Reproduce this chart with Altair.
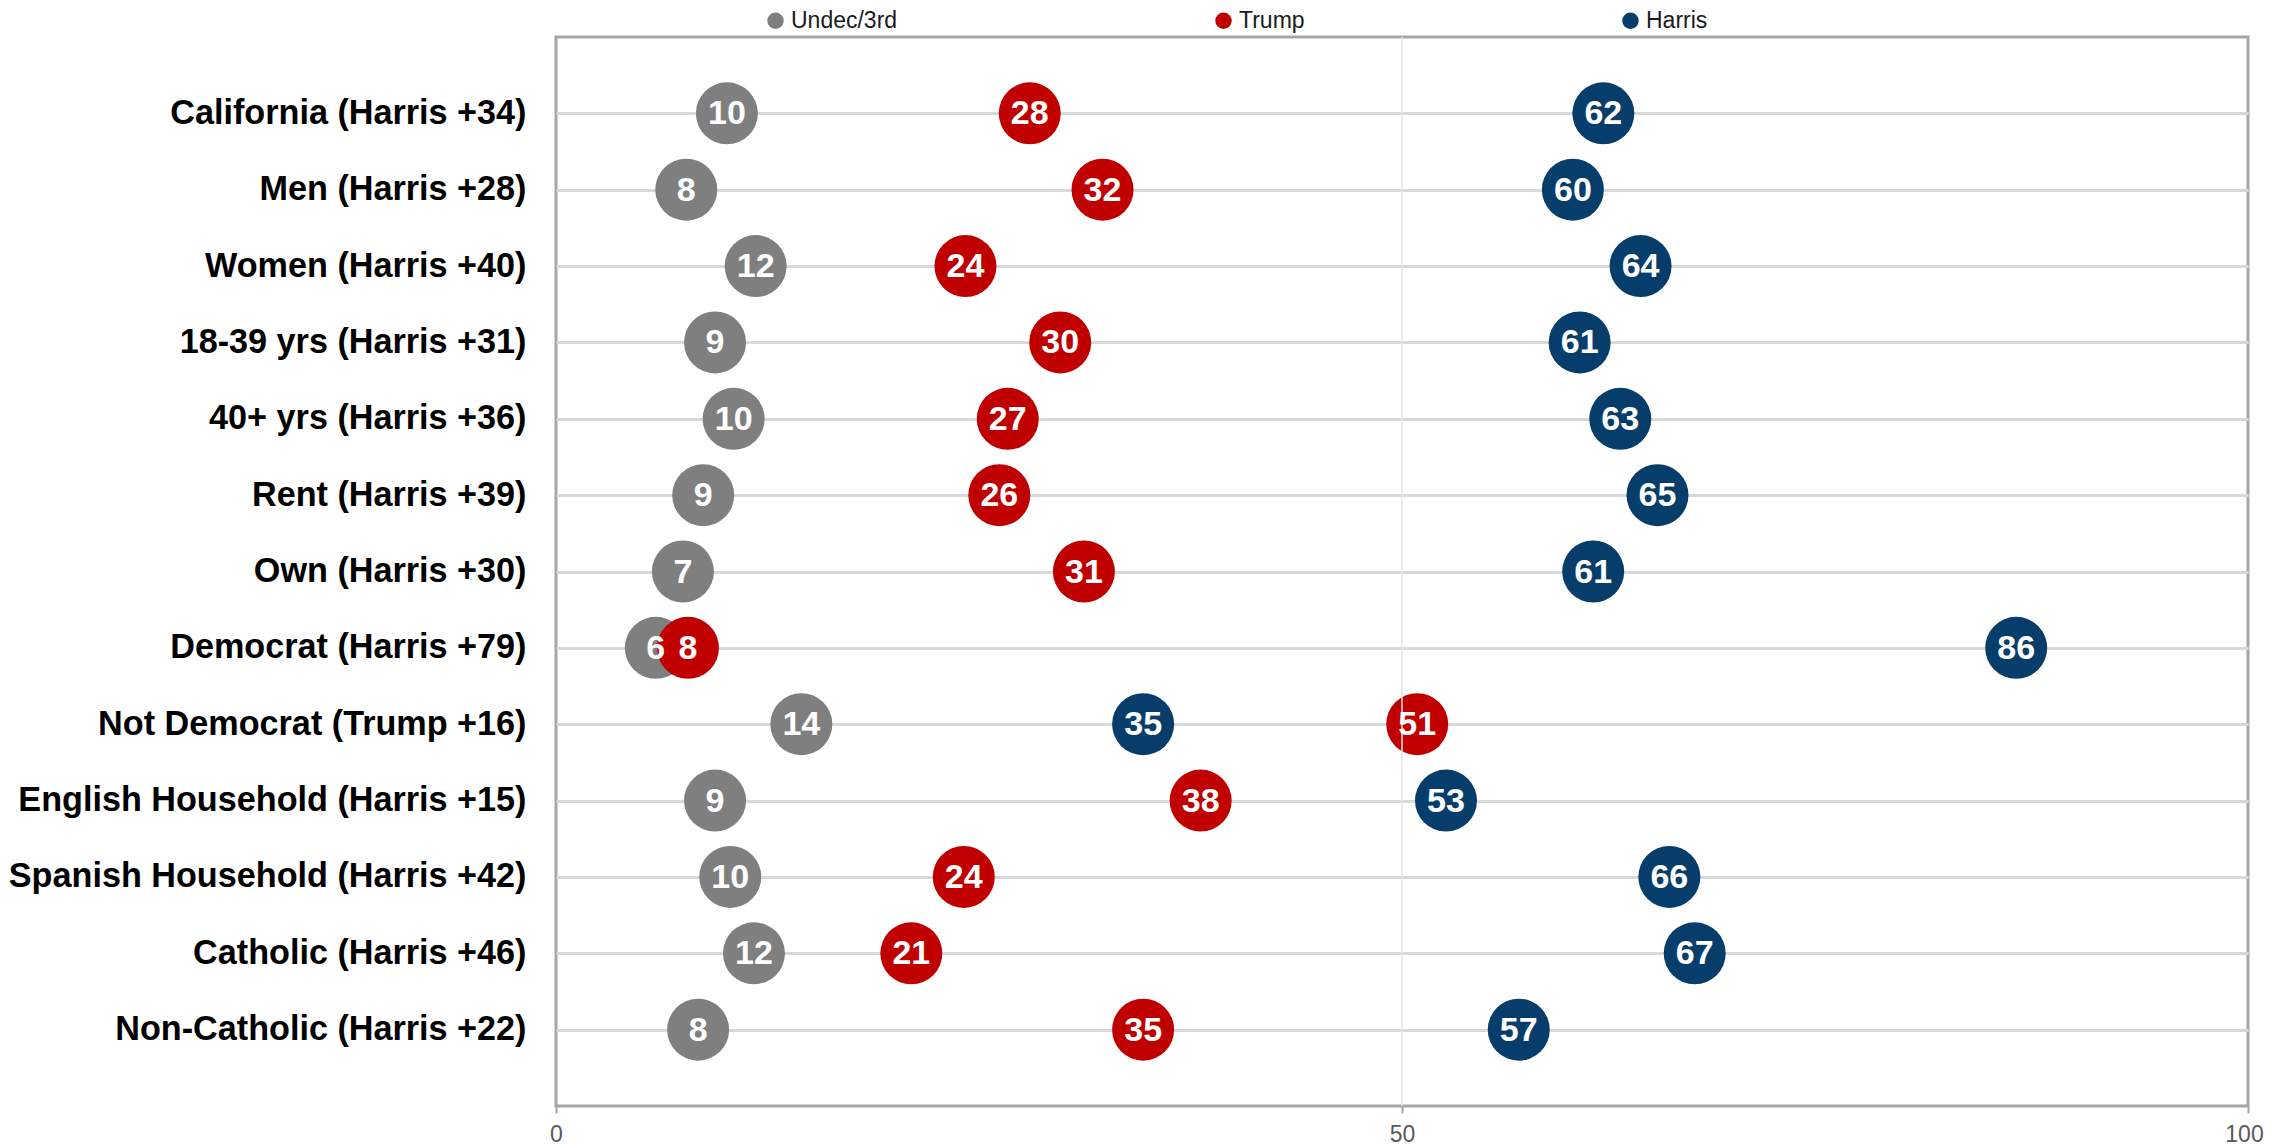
import altair as alt
import pandas as pd

groups = [
    "California (Harris +34)", "Men (Harris +28)", "Women (Harris +40)",
    "18-39 yrs (Harris +31)", "40+ yrs (Harris +36)", "Rent (Harris +39)",
    "Own (Harris +30)", "Democrat (Harris +79)", "Not Democrat (Trump +16)",
    "English Household (Harris +15)", "Spanish Household (Harris +42)",
    "Catholic (Harris +46)", "Non-Catholic (Harris +22)",
]
# plotted positions (unrounded)
undec = [10.1, 7.7, 11.8, 9.4, 10.5, 8.7, 7.5, 5.9, 14.5, 9.4, 10.3, 11.7, 8.4]
trump = [28.0, 32.3, 24.2, 29.8, 26.7, 26.2, 31.2, 7.8, 50.9, 38.1, 24.1, 21.0, 34.7]
harris = [61.9, 60.1, 64.1, 60.5, 62.9, 65.1, 61.3, 86.3, 34.7, 52.6, 65.8, 67.3, 56.9]
# data labels shown in the bubbles
undec_lbl = [10, 8, 12, 9, 10, 9, 7, 6, 14, 9, 10, 12, 8]
trump_lbl = [28, 32, 24, 30, 27, 26, 31, 8, 51, 38, 24, 21, 35]
harris_lbl = [62, 60, 64, 61, 63, 65, 61, 86, 35, 53, 66, 67, 57]
series_names = ["Undec/3rd", "Trump", "Harris"]
series_colors = ["#7f7f7f", "#c00000", "#073d6b"]
x_ticks = [0, 50, 100]
mid_line = [50]

rows = []
for name, vals, lbls in zip(series_names, [undec, trump, harris],
                            [undec_lbl, trump_lbl, harris_lbl]):
    for g, v, l in zip(groups, vals, lbls):
        rows.append({"group": g, "series": name, "value": v, "label": str(l)})
df = pd.DataFrame(rows)
df_mid = pd.DataFrame({"v": mid_line})

FONT = "Liberation Sans"
xscale = alt.Scale(domain=[0, 100], nice=False)
yscale = alt.Scale(type="point", padding=1)

y_enc = alt.Y(
    "group:N", sort=groups, scale=yscale,
    axis=alt.Axis(
        title=None, ticks=False, domain=False, labelFontSize=34.2,
        labelFontWeight="bold", labelColor="#000000", labelPadding=30,
        labelLimit=1000, grid=True, gridColor="#d9d9d9", gridWidth=3,
        labelFont=FONT,
    ),
)
x_enc = alt.X(
    "value:Q", scale=xscale,
    axis=alt.Axis(
        title=None, values=x_ticks, grid=False, domain=False, ticks=True,
        tickColor="#a6a6a6", tickSize=7, tickWidth=2, labelColor="#595959",
        labelFontSize=23, labelPadding=10, labelFlush=False, labelFont=FONT,
        labelOffset=alt.condition("datum.value == 100", alt.value(-4), alt.value(0)),
    ),
)

circles = alt.Chart(df).mark_circle(size=3844, opacity=1).encode(
    x=x_enc,
    y=y_enc,
    color=alt.Color(
        "series:N",
        scale=alt.Scale(domain=series_names, range=series_colors),
        legend=alt.Legend(
            title=None, orient="none", direction="horizontal",
            legendX=208, legendY=-28, symbolType="circle", symbolSize=270,
            symbolStrokeWidth=0, symbolOpacity=1, labelFontSize=23,
            labelColor="#1a1a1a", labelFont=FONT, columnPadding=314,
            labelOffset=4, padding=0,
        ),
    ),
)

rule = alt.Chart(df_mid).mark_rule(color="#e4e4e4", strokeWidth=1.5).encode(
    x=alt.X("v:Q", scale=xscale)
)

texts = alt.Chart(df).mark_text(
    color="white", fontSize=34, fontWeight="bold", font=FONT,
    align="center", baseline="middle", dy=1,
).encode(
    x=alt.X("value:Q", scale=xscale),
    y=alt.Y("group:N", sort=groups, scale=yscale),
    text=alt.Text("label:N"),
)

chart = alt.layer(circles, rule, texts).properties(
    width=1692, height=1069,
    autosize=alt.AutoSizeParams(type="none"),
    padding={"left": 548, "top": 29, "right": 16, "bottom": 44},
).configure(
    font=FONT,
    view=alt.ViewConfig(stroke="#a6a6a6", strokeWidth=3),
)

chart.save("out.html", embed_options={"renderer": "svg", "actions": False})
